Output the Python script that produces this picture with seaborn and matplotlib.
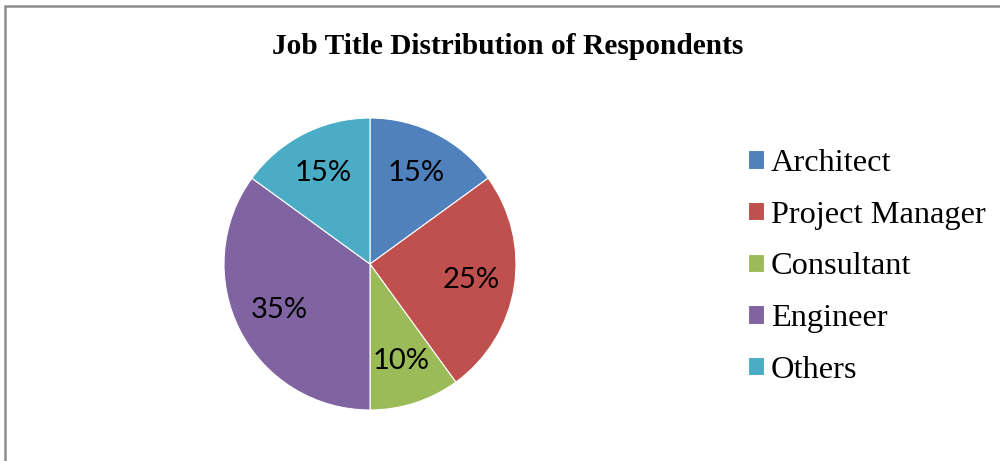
import matplotlib
matplotlib.use("Agg")
import matplotlib.pyplot as plt
import seaborn as sns
from matplotlib.patches import Rectangle

categories = ["Architect", "Project Manager", "Consultant", "Engineer", "Others"]
values = [15, 25, 10, 35, 15]
colors = ["#4F81BD", "#C0504D", "#9BBB59", "#8064A2", "#4BACC6"]
title = "Job Title Distribution of Respondents"

sns.set_theme(style="white")
plt.rcParams["font.family"] = ["Liberation Serif", "DejaVu Serif"]
plt.rcParams["text.color"] = "black"

fig = plt.figure(figsize=(10, 4.61), dpi=100)
fig.patch.set_facecolor("white")

# outer border
fig.patches.append(Rectangle((4.5 / 1000, -0.1), 1.2, (461 - 6.5) / 461 + 0.1,
                             transform=fig.transFigure, fill=False,
                             edgecolor="#8c8c8c", linewidth=1.8, zorder=0))

ax = fig.add_axes([0.224, 0.1106, 0.292, 0.6334])
wedges, texts, autotexts = ax.pie(
    values, colors=colors, startangle=90, counterclock=False,
    autopct=lambda p: f"{p:.0f}%", pctdistance=0.70,
    wedgeprops=dict(edgecolor="white", linewidth=0.8),
    textprops=dict(fontsize=21, color="black", family=["Lato", "DejaVu Sans"]),
)
ax.set_xlim(-1, 1)
ax.set_ylim(-1, 1)
ax.set_aspect("equal")
ax.axis("off")

fig.text(0.508, 1 - 46 / 461, title, ha="center", va="center",
         fontsize=21.2, fontweight="bold", color="black")

leg = fig.legend(wedges, categories, loc="upper left",
                 bbox_to_anchor=(0.748, 1 - 149 / 461), frameon=False,
                 fontsize=23.3, handlelength=0.49, handleheight=0.49,
                 handletextpad=0.22, labelspacing=0.70, borderpad=0,
                 borderaxespad=0, labelcolor="black")

fig.savefig("out.png", dpi=100, facecolor="white")
